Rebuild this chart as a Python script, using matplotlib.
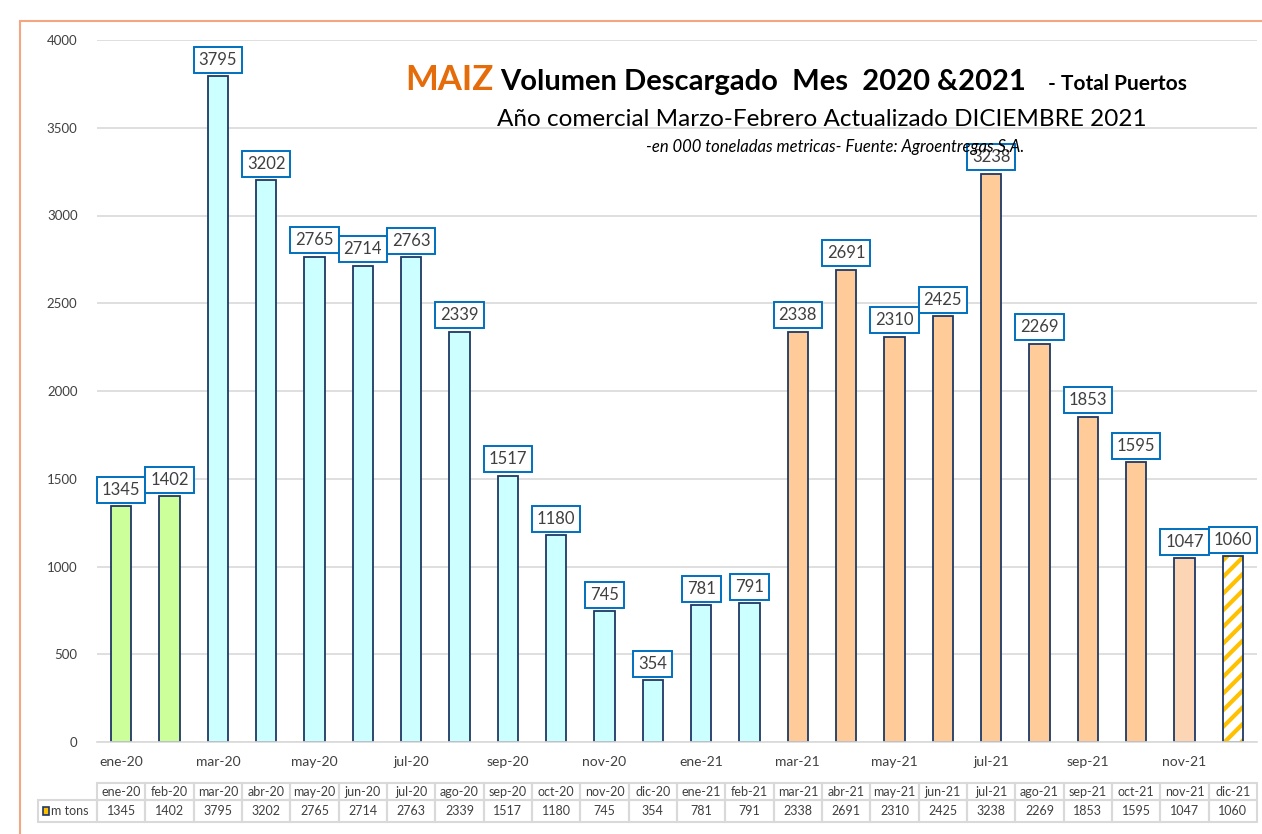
import matplotlib
matplotlib.use('Agg')
import matplotlib.pyplot as plt
from matplotlib.patches import Rectangle

# datos (miles de toneladas)
meses = ['ene-20', 'feb-20', 'mar-20', 'abr-20', 'may-20', 'jun-20', 'jul-20', 'ago-20',
         'sep-20', 'oct-20', 'nov-20', 'dic-20', 'ene-21', 'feb-21', 'mar-21', 'abr-21',
         'may-21', 'jun-21', 'jul-21', 'ago-21', 'sep-21', 'oct-21', 'nov-21', 'dic-21']
toneladas = [1345, 1402, 3795, 3202, 2765, 2714, 2763, 2339, 1517, 1180, 745, 354,
             781, 791, 2338, 2691, 2310, 2425, 3238, 2269, 1853, 1595, 1047, 1060]
colores = ['#CCFF99'] * 2 + ['#CCFFFF'] * 12 + ['#FFCC99'] * 8 + ['#FCD5B4', 'white']
yticks = [0, 500, 1000, 1500, 2000, 2500, 3000, 3500, 4000]

plt.rcParams['font.family'] = ['Lato', 'DejaVu Sans']
plt.rcParams['hatch.linewidth'] = 3.0

fig = plt.figure(figsize=(12.62, 8.34), dpi=100)
ax = fig.add_axes([97 / 1262, 1 - 742 / 834, 1160 / 1262, 702 / 834])

# marco naranja
fig.patches.append(Rectangle((20 / 1262, -0.1), 1.1, 1 - 21 / 834 + 0.1, transform=fig.transFigure,
                             fill=False, edgecolor='#F4A582', linewidth=1.5))

x = list(range(len(meses)))
edge = '#1F3864'
for i, (v, c) in enumerate(zip(toneladas, colores)):
    if i == len(meses) - 1:
        ax.bar(i, v, width=0.42, color='white', edgecolor='#FFC000', hatch='//', linewidth=0, zorder=3)
        ax.bar(i, v, width=0.42, fill=False, edgecolor=edge, linewidth=1.3, zorder=4)
    else:
        ax.bar(i, v, width=0.42, color=c, edgecolor=edge, linewidth=1.3, zorder=3)
    ax.annotate(f'{v}', (i, v), xytext=(0, 6), textcoords='offset points',
                ha='center', va='bottom', fontsize=12, color='#404040', zorder=5,
                bbox=dict(boxstyle='square,pad=0.3', fc='white', ec='#0070C0', lw=1.4))

ax.set_xlim(-0.5, len(meses) - 0.5)
ax.set_ylim(0, 4000)
ax.set_yticks(yticks)
ax.set_yticklabels([str(t) for t in yticks], fontsize=9.5, color='#404040')
ax.yaxis.grid(True, color='#D9D9D9', linewidth=1.2, zorder=0)
ax.set_axisbelow(True)
for s in ['top', 'right', 'left']:
    ax.spines[s].set_visible(False)
ax.spines['bottom'].set_color('#D9D9D9')
ax.spines['bottom'].set_linewidth(1.2)
ax.spines['bottom'].set_zorder(5)
ax.tick_params(axis='y', length=0, pad=14)
ax.set_xticks(x[::2])
ax.set_xticklabels(meses[::2], fontsize=10, color='#404040')
ax.tick_params(axis='x', length=0, pad=10)

# tabla de datos
tr = ax.get_xaxis_transform()
y_top, y_mid, y_bot = -41 / 702, -58 / 702, -80 / 702
grid_c = '#D9D9D9'
for i, (m, v) in enumerate(zip(meses, toneladas)):
    ax.add_patch(Rectangle((i - 0.5, y_mid), 1, y_top - y_mid, transform=tr, fill=False,
                           edgecolor=grid_c, linewidth=1.5, clip_on=False))
    ax.add_patch(Rectangle((i - 0.5, y_bot), 1, y_mid - y_bot, transform=tr, fill=False,
                           edgecolor=grid_c, linewidth=1.5, clip_on=False))
    ax.text(i, (y_top + y_mid) / 2, m, transform=tr, ha='center', va='center',
            fontsize=9, color='#404040')
    ax.text(i, (y_mid + y_bot) / 2, str(v), transform=tr, ha='center', va='center',
            fontsize=9, color='#404040')
x_leg = -0.5 - 59 / 48.3
ax.add_patch(Rectangle((x_leg, y_bot), -0.5 - x_leg, y_mid - y_bot, transform=tr, fill=False,
                       edgecolor=grid_c, linewidth=1.5, clip_on=False))
ax.add_patch(Rectangle((x_leg + 0.1, (y_mid + y_bot) / 2 - 0.006), 0.13, 0.012, transform=tr,
                       facecolor='#FFC000', edgecolor=edge, linewidth=1.2, clip_on=False))
ax.text(x_leg + 0.28, (y_mid + y_bot) / 2, 'm tons', transform=tr, ha='left', va='center',
        fontsize=9, color='#404040')

# titulos
fig.text(405 / 1262, 1 - 90 / 834, 'MAIZ', fontsize=25, fontweight='bold', color='#E46C0A',
         ha='left', va='baseline')
fig.text(500 / 1262, 1 - 90 / 834, 'Volumen Descargado  Mes  2020 &2021', fontsize=21,
         fontweight='bold', color='black', ha='left', va='baseline')
fig.text(1187 / 1262, 1 - 90 / 834, '- Total Puertos', fontsize=15, fontweight='bold',
         color='black', ha='right', va='baseline')
fig.text(822 / 1262, 1 - 120 / 834, 'Año comercial Marzo-Febrero Actualizado DICIEMBRE 2021',
         fontsize=17.5, color='black', ha='center', va='center')
fig.text(835 / 1262, 1 - 147 / 834, '-en 000 toneladas metricas- Fuente: Agroentregas S.A.',
         fontsize=12, style='italic', color='black', ha='center', va='center')

fig.savefig('out.png', dpi=100)
